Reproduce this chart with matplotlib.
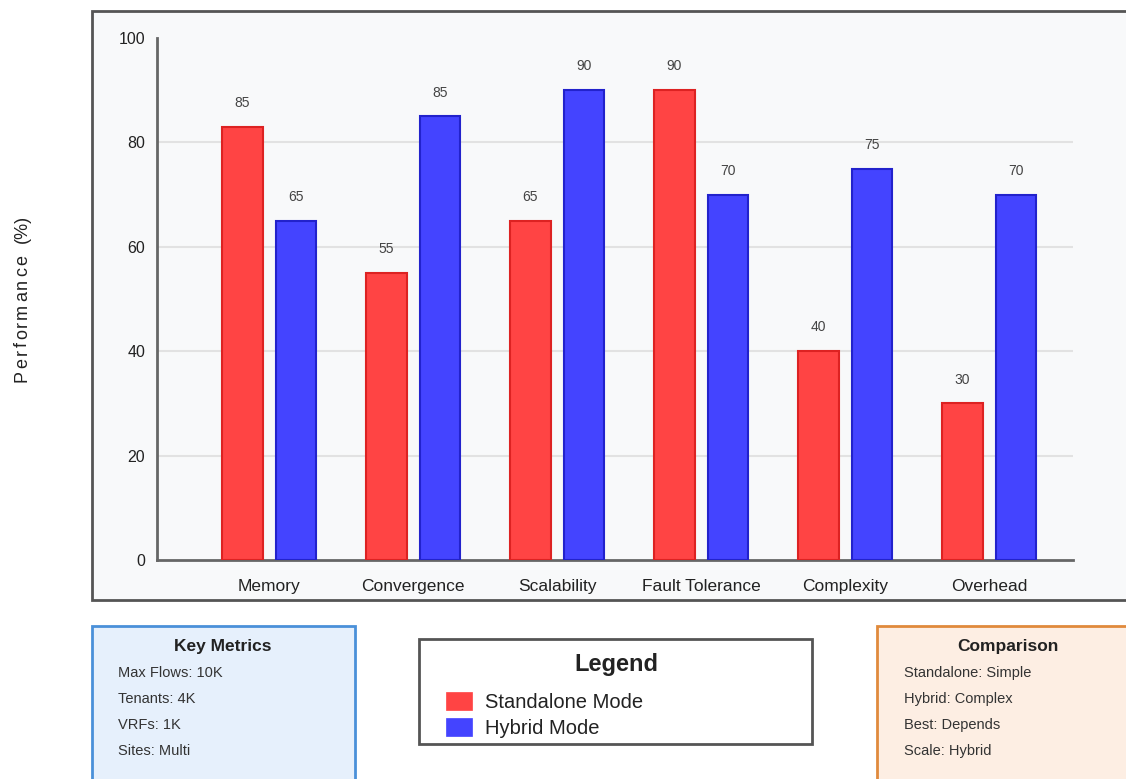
import matplotlib
matplotlib.use("Agg")
import matplotlib.pyplot as plt
from matplotlib.patches import Rectangle
import numpy as np

plt.rcParams['font.family'] = ['Liberation Sans', 'DejaVu Sans']

categories = ["Memory", "Convergence", "Scalability", "Fault Tolerance", "Complexity", "Overhead"]
standalone = [83, 55, 65, 90, 40, 30]
standalone_labels = ["85", "55", "65", "90", "40", "30"]
hybrid = [65, 85, 90, 70, 75, 70]
hybrid_labels = ["65", "85", "90", "70", "75", "70"]
y_ticks = [0, 20, 40, 60, 80, 100]
y_label_word = "Performance"
y_label_unit = "(%)"

key_metrics = ["Max Flows: 10K", "Tenants: 4K", "VRFs: 1K", "Sites: Multi"]
comparison = ["Standalone: Simple", "Hybrid: Complex", "Best: Depends", "Scale: Hybrid"]
legend_items = ["Standalone Mode", "Hybrid Mode"]

W, H = 1126, 779
fig = plt.figure(figsize=(W / 100, H / 100), dpi=100)
fig.patch.set_facecolor("white")


def fx(x):
    return x / W


def fy(y):
    return 1 - y / H


def rect(x0, y0, x1, y1, fc, ec, lw, z=0):
    r = Rectangle((fx(x0), fy(y1)), fx(x1) - fx(x0), fy(y0) - fy(y1),
                  transform=fig.transFigure, facecolor=fc, edgecolor=ec,
                  linewidth=lw, zorder=z, clip_on=False)
    fig.add_artist(r)
    return r


# outer chart frame
rect(92, 11, 1130, 600, "#f8f9fa", "#555555", 2.0, z=0)

ax = fig.add_axes([fx(157), fy(560), fx(1073) - fx(157), fy(38) - fy(560)])
ax.set_zorder(1)
ax.patch.set_alpha(0)
x = np.arange(len(categories))
off, bw = 0.185, 0.28
ax.bar(x - off, standalone, width=bw, color="#ff4444", edgecolor="#dd2222", linewidth=1.5, zorder=3)
ax.bar(x + off, hybrid, width=bw, color="#4444ff", edgecolor="#2222cc", linewidth=1.5, zorder=3)
for xi, v, lab in zip(x, standalone, standalone_labels):
    ax.text(xi - off, v + 3.2, lab, ha="center", va="bottom", fontsize=10, color="#444444")
for xi, v, lab in zip(x, hybrid, hybrid_labels):
    ax.text(xi + off, v + 3.2, lab, ha="center", va="bottom", fontsize=10, color="#444444")

ax.set_xlim(-0.778, 5.583)
ax.set_ylim(0, 100)
ax.set_yticks(y_ticks)
ax.set_yticklabels([str(t) for t in y_ticks], fontsize=11.5, color="#222222")
ax.set_xticks(x)
ax.set_xticklabels(categories, fontsize=12.5, color="#222222")
ax.tick_params(axis="both", length=0)
ax.tick_params(axis="y", pad=8.5)
ax.tick_params(axis="x", pad=13.5)
for t in y_ticks[1:-1]:
    ax.axhline(t, color="#e2e2e2", linewidth=1.5, zorder=1)
for s in ["top", "right"]:
    ax.spines[s].set_visible(False)
for s in ["left", "bottom"]:
    ax.spines[s].set_color("#666666")
    ax.spines[s].set_linewidth(2)

# letter-spaced rotated y label
renderer = fig.canvas.get_renderer()
ylab_fs = 13
extra = 2.4


def text_w(s):
    t = fig.text(0, 0, s + "|", fontsize=ylab_fs)
    w = t.get_window_extent(renderer).width
    t.remove()
    t2 = fig.text(0, 0, "|", fontsize=ylab_fs)
    w2 = t2.get_window_extent(renderer).width
    t2.remove()
    return w - w2


y_start = 382
base_x = 27
for i, ch in enumerate(y_label_word):
    pos = text_w(y_label_word[:i]) + extra * i
    fig.text(fx(base_x), fy(y_start - pos), ch, rotation=90, ha="left", va="baseline",
             fontsize=ylab_fs, color="#222222", rotation_mode="anchor")
fig.text(fx(base_x), fy(243), y_label_unit, rotation=90, ha="left", va="baseline",
         fontsize=ylab_fs, color="#222222", rotation_mode="anchor")

# Key Metrics box
rect(92, 626, 355, 790, "#e6f0fc", "#4a90d9", 2.0, z=2)
fig.text(fx(223), fy(646), "Key Metrics", ha="center", va="center", fontsize=12.5,
         fontweight="bold", color="#222222")
for i, t in enumerate(key_metrics):
    fig.text(fx(118), fy(673 + 26 * i), t, ha="left", va="center", fontsize=10.5, color="#333333")

# Legend box
rect(419, 639, 812, 744, "white", "#555555", 2.0, z=2)
fig.text(fx(616), fy(664), "Legend", ha="center", va="center", fontsize=17,
         fontweight="bold", color="#222222")
leg_colors = ["#ff4444", "#4444ff"]
for i, (t, c) in enumerate(zip(legend_items, leg_colors)):
    yc = 702 + 26 * i
    rect(446, yc - 10, 472, yc + 8, c, c, 0.5, z=3)
    fig.text(fx(485), fy(yc), t, ha="left", va="center", fontsize=14.5, color="#222222")

# Comparison box
rect(877, 626, 1140, 790, "#fdeee3", "#e08a3c", 2.0, z=2)
fig.text(fx(1008), fy(646), "Comparison", ha="center", va="center", fontsize=12.5,
         fontweight="bold", color="#222222")
for i, t in enumerate(comparison):
    fig.text(fx(904), fy(673 + 26 * i), t, ha="left", va="center", fontsize=10.5, color="#333333")

fig.savefig("out.png", dpi=100, facecolor="white")
